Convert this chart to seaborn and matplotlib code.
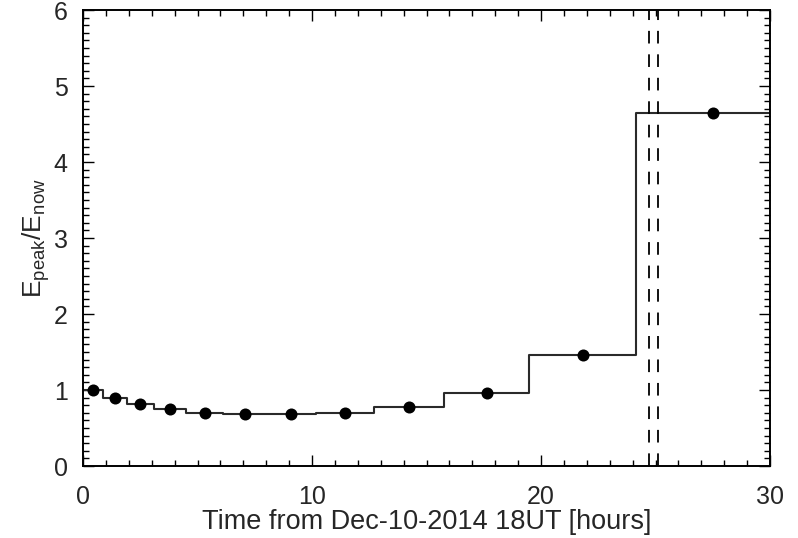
import matplotlib
matplotlib.use("Agg")
import matplotlib.pyplot as plt
import seaborn as sns
import pandas as pd
from matplotlib.ticker import MultipleLocator

# ---- data ----
bin_edges = [0.0, 0.89, 1.91, 3.10, 4.50, 6.13, 8.00, 10.17, 12.72, 15.78, 19.49, 24.15, 30.89]
ratio_values = [1.00, 0.89, 0.81, 0.75, 0.70, 0.68, 0.68, 0.70, 0.77, 0.96, 1.46, 4.65]
dot_times = [0.43, 1.40, 2.50, 3.80, 5.31, 7.06, 9.08, 11.44, 14.25, 17.63, 21.82, 27.52]
dash_times = [24.70, 25.12]
x_ticks = [0, 10, 20, 30]
y_ticks = [0, 1, 2, 3, 4, 5, 6]

sns.set_style("ticks")
plt.rcParams['font.family'] = ['Liberation Sans', 'DejaVu Sans']
plt.rcParams['mathtext.fontset'] = 'custom'
plt.rcParams['mathtext.rm'] = 'Liberation Sans'

fig = plt.figure(figsize=(7.98, 5.38), dpi=100)
ax = fig.add_axes([83/798, 1 - 466/538, (770 - 83)/798, (466 - 10)/538])

step_df = pd.DataFrame({"t": bin_edges, "r": ratio_values + [ratio_values[-1]]})
dot_df = pd.DataFrame({"t": dot_times, "r": ratio_values})

sns.lineplot(data=step_df, x="t", y="r", ax=ax, estimator=None, sort=False,
             drawstyle="steps-post", color="#2a2a2a", linewidth=1.5)
sns.scatterplot(data=dot_df, x="t", y="r", ax=ax, color="black", s=75,
                edgecolor="black", linewidth=0, zorder=3)
for t in dash_times:
    ax.axvline(t, color="black", linestyle=(0, (7, 6)), linewidth=1.3)

ax.set_xlim(0, 30)
ax.set_ylim(0, 6)
ax.set_xticks(x_ticks)
ax.set_yticks(y_ticks)
ax.xaxis.set_minor_locator(MultipleLocator(1))
ax.yaxis.set_minor_locator(MultipleLocator(0.1))
ax.tick_params(which="both", direction="in", top=True, right=True, color="black")
ax.tick_params(which="major", length=8, width=1.0, labelsize=18)
ax.tick_params(axis="x", which="major", pad=14)
ax.tick_params(axis="y", which="major", pad=11)
ax.tick_params(which="minor", length=4, width=1.0)
for s in ax.spines.values():
    s.set_linewidth(1.4)
    s.set_color("black")

ax.set_xlabel("Time from Dec-10-2014 18UT [hours]", fontsize=19.5, labelpad=0)
ax.set_ylabel(r"$\mathregular{E_{peak}/E_{now}}$", fontsize=19, labelpad=1)

fig.savefig("out.png", dpi=100)
